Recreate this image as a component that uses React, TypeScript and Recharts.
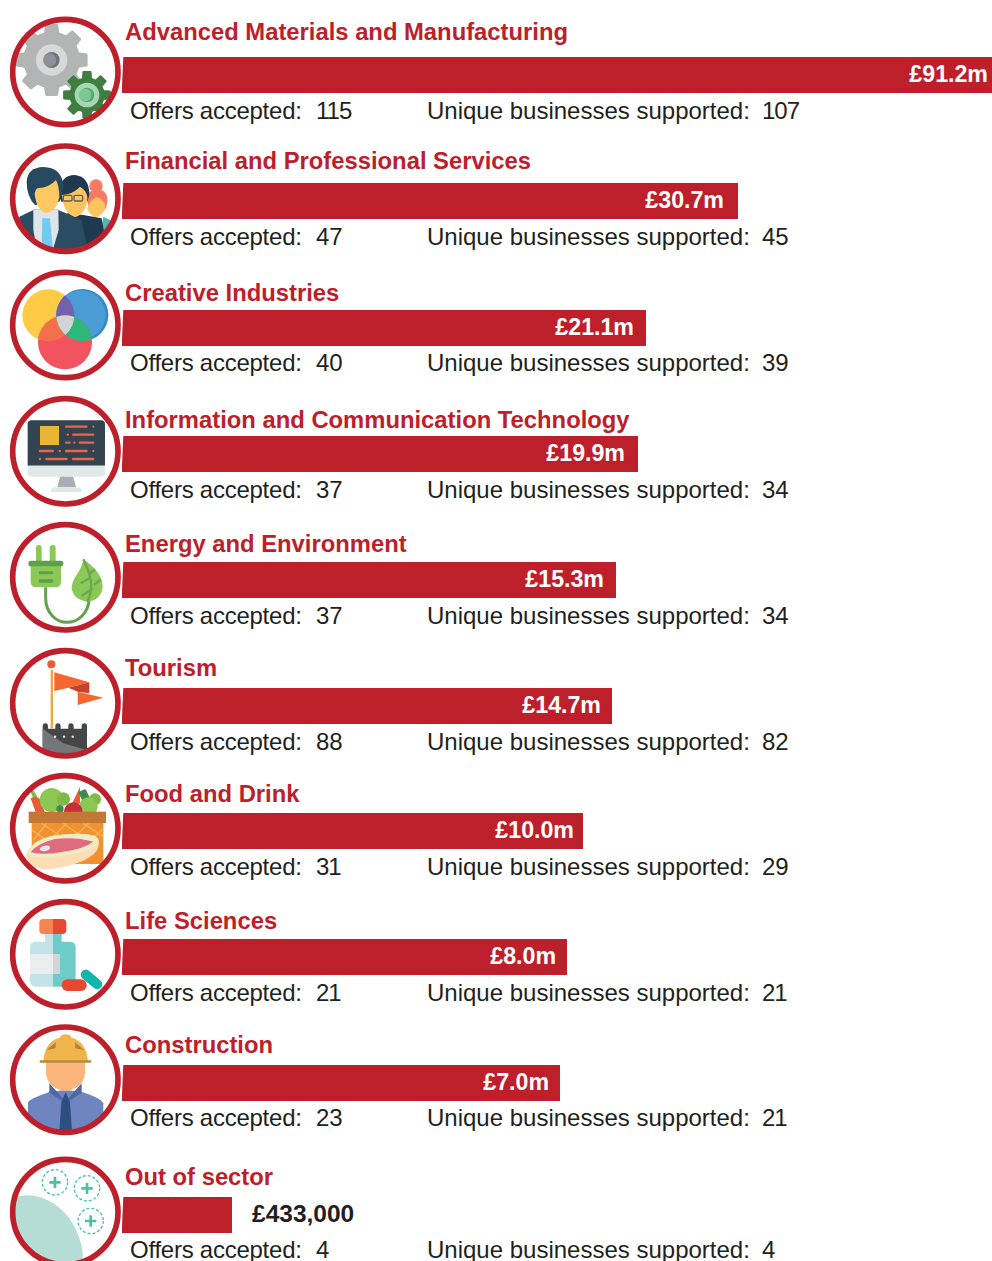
import React from "react";
import { BarChart, Bar, XAxis, YAxis, LabelList } from "recharts";

const sectors = [
  "Advanced Materials and Manufacturing",
  "Financial and Professional Services",
  "Creative Industries",
  "Information and Communication Technology",
  "Energy and Environment",
  "Tourism",
  "Food and Drink",
  "Life Sciences",
  "Construction",
  "Out of sector",
];
const fundingLabels = ["£91.2m", "£30.7m", "£21.1m", "£19.9m", "£15.3m", "£14.7m", "£10.0m", "£8.0m", "£7.0m", "£433,000"];
// The source graphic's bars are not proportional to the funding: these are the lengths as drawn.
const drawnBarLengths = [870, 616, 524, 516, 494, 490, 461, 445, 438, 110];
const offersAccepted = [115, 47, 40, 37, 37, 88, 31, 21, 23, 4];
const uniqueBusinesses = [107, 45, 39, 34, 34, 82, 29, 21, 21, 4];

const BAR_TOPS = [57, 183, 310, 436, 562, 688, 813, 939, 1065, 1197];
const TITLE_BASE = [40, 169, 301, 428, 552, 676, 802, 929, 1053, 1185];
const INFO_BASE = [119, 245, 371, 498, 624, 750, 875, 1001, 1126, 1258];
const LABEL_GAPS = [4, 14, 12, 13, 12, 11, 9, 11, 11, 0];
const RED = "#BE202B";
const INK = "#231F20";
const FONT = "'Liberation Sans', Arial, sans-serif";

function gearPath(cx: number, cy: number, ro: number, ri: number, teeth: number, start: number) {
  const pts: string[] = [];
  const step = (Math.PI * 2) / teeth;
  for (let i = 0; i < teeth; i++) {
    const a = start + i * step;
    const p = (r: number, d: number) => `${(cx + r * Math.sin(a + d * step)).toFixed(1)},${(cy - r * Math.cos(a + d * step)).toFixed(1)}`;
    pts.push(p(ri, -0.3), p(ro, -0.19), p(ro, 0.19), p(ri, 0.3));
  }
  return "M" + pts.join("L") + "Z";
}

const ringCy = [216, 596, 195, 574, 202, 580, 190, 568, 194, 591];
const cropY = [0, 0, 260, 260, 510, 510, 765, 765, 1015, 1015];

function Gears() {
  return (
    <g>
      <path d={gearPath(155, 180, 105, 82, 8, 0)} fill="#B3B5B5" stroke="#B3B5B5" strokeWidth="8" strokeLinejoin="round" />
      <circle cx="155" cy="180" r="47" fill="#D7D8D9" />
      <circle cx="155" cy="180" r="24" fill="#6E7378" />
      <circle cx="149" cy="180" r="20" fill="#8D9297" />
      <path d={gearPath(261, 285, 69, 50, 8, 0)} fill="#3F7D40" stroke="#3F7D40" strokeWidth="7" strokeLinejoin="round" />
      <circle cx="261" cy="285" r="37" fill="#A6D7B3" />
      <circle cx="261" cy="285" r="22" fill="#58A874" />
      <circle cx="255" cy="285" r="19" fill="#7AC893" />
    </g>
  );
}

function People() {
  return (
    <g>
      <path d="M310,650 L350,670 V720 H300 Z" fill="#4DB8AE" />
      <circle cx="288" cy="558" r="20" fill="#F47C66" />
      <path d="M262,600 Q262,568 292,568 Q324,570 322,605 L318,625 H266 Z" fill="#F47C66" />
      <path d="M262,625 Q268,600 290,592 Q318,600 316,628 Q300,652 285,652 Q268,645 262,625 Z" fill="#FDC45F" />
      <path d="M200,640 L250,645 L305,655 L320,740 H200 Z" fill="#1F3A50" />
      <path d="M178,585 Q178,525 225,525 Q268,530 268,585 L262,605 H184 Z" fill="#1F3A50" />
      <path d="M186,585 Q220,582 240,560 Q258,570 262,590 Q262,640 224,652 Q190,640 186,585 Z" fill="#FDC45F" />
      <rect x="190" y="586" width="26" height="17" rx="4" fill="none" stroke="#5A5F55" strokeWidth="4" />
      <rect x="222" y="586" width="26" height="17" rx="4" fill="none" stroke="#5A5F55" strokeWidth="4" />
      <path d="M58,650 L105,628 L170,628 L245,660 L262,750 H60 Z" fill="#2A4D63" />
      <path d="M100,628 L175,628 L176,690 L160,745 H110 L100,690 Z" fill="#DFE4E9" />
      <path d="M127,655 H150 L158,742 H125 Z" fill="#6FCBF2" />
      <path d="M80,545 Q82,503 130,501 Q185,503 190,555 Q188,590 178,605 L105,615 Q80,590 80,545 Z" fill="#26495F" />
      <path d="M104,580 Q105,570 112,565 Q150,562 168,540 Q178,560 178,590 Q172,632 140,640 Q108,630 104,580 Z" fill="#FDC862" />
    </g>
  );
}

function Venn() {
  return (
    <g>
      <defs>
        <clipPath id="vy"><circle cx="145" cy="166" r="78" /></clipPath>
        <clipPath id="vb"><circle cx="247" cy="165" r="78" /></clipPath>
        <clipPath id="vr"><circle cx="195" cy="247" r="81" /></clipPath>
      </defs>
      <circle cx="145" cy="166" r="78" fill="#FFCB47" />
      <circle cx="247" cy="165" r="78" fill="#2F8BCB" />
      <circle cx="243" cy="165" r="74" fill="#4B9BD5" />
      <circle cx="195" cy="247" r="81" fill="#F2545F" />
      <g clipPath="url(#vy)"><circle cx="247" cy="165" r="78" fill="#7461AE" /><circle cx="195" cy="247" r="81" fill="#F4704D" /></g>
      <g clipPath="url(#vb)"><circle cx="195" cy="247" r="81" fill="#2DB87A" /></g>
      <g clipPath="url(#vy)"><g clipPath="url(#vb)"><circle cx="195" cy="247" r="81" fill="#D1D3D4" /></g></g>
    </g>
  );
}

function Monitor() {
  const dashes = [
    [500, 195, 263], [500, 277, 283], [524, 200, 207], [524, 216, 283], [548, 195, 212], [548, 220, 227], [548, 236, 283],
    [573, 116, 162], [573, 176, 183], [573, 195, 263], [573, 277, 283], [597, 116, 123], [597, 136, 203], [597, 216, 283],
  ];
  return (
    <g>
      <path d="M83,617 V493 Q83,481 95,481 H303 Q315,481 315,493 V617 Z" fill="#33434F" />
      <path d="M83,617 H315 V638 Q315,650 303,650 H95 Q83,650 83,638 Z" fill="#E1E8E8" />
      <polygon points="180,650 220,650 228,682 172,682" fill="#A9AEB4" />
      <path d="M152,696 Q152,682 166,682 H232 Q246,682 246,696 Z" fill="#E1E8E8" />
      <rect x="120" y="498" width="57" height="57" fill="#E8B634" />
      {dashes.map(([y, a, b], i) => <rect key={i} x={a} y={y - 3.5} width={b - a} height="7" rx="3" fill="#EE6541" />)}
    </g>
  );
}

function Plug() {
  return (
    <g>
      <path d="M137,232 V265 C137,310 170,337 200,337 C235,337 265,310 268,265" fill="none" stroke="#5FA14F" strokeWidth="9" />
      <rect x="108" y="105" width="17" height="55" rx="8" fill="#8BC855" />
      <rect x="149" y="105" width="18" height="55" rx="8" fill="#8BC855" />
      <path d="M92,165 H183 V215 Q183,232 166,232 H109 Q92,232 92,215 Z" fill="#8BC855" />
      <rect x="85" y="152" width="105" height="17" rx="8" fill="#5F9E4D" />
      <rect x="116" y="184" width="44" height="9" rx="4" fill="#5F9E4D" />
      <rect x="116" y="208" width="44" height="10" rx="4" fill="#5F9E4D" />
      <path d="M250,148 C275,165 310,195 308,232 C306,258 285,275 262,275 C235,272 215,255 215,232 C218,200 245,185 250,148 Z" fill="#8BC855" />
      <path d="M250,148 C270,190 285,230 262,275 M268,205 L242,220 M278,235 L245,258 M270,190 L285,178 M282,225 L302,208" fill="none" stroke="#6AA653" strokeWidth="7" />
    </g>
  );
}

function Flag() {
  return (
    <g>
      <path d="M128,650 Q128,640 136,640 Q144,640 144,650 V656 H166 V648 Q166,640 174,640 Q182,640 182,650 V656 H205 V648 Q205,640 213,640 Q221,640 221,650 V656 H245 V648 Q245,640 253,640 Q261,640 261,650 V750 H128 Z" fill="#454648" />
      <polygon points="128,656 190,700 261,720 261,750 128,750" fill="#74767A" />
      {[165, 192, 218].map((x) => <circle key={x} cx={x} cy="680" r="3.5" fill="#F4F4F4" />)}
      <rect x="152" y="480" width="7" height="175" fill="#F2A53B" />
      <circle cx="154" cy="463" r="12" fill="#EE5A35" />
      <polygon points="163,487 268,517 205,533 163,543" fill="#F4682F" />
      <polygon points="205,533 268,517 268,550 233,545" fill="#C9402E" />
      <polygon points="233,545 310,563 233,585" fill="#F4682F" />
    </g>
  );
}

function Food() {
  return (
    <g>
      <polygon points="88,72 96,70 112,95 100,100" fill="#7EB94A" />
      <path d="M92,100 Q110,88 122,105 L135,145 L108,145 Z" fill="#EE5A35" />
      <polygon points="240,65 212,125 240,115" fill="#EE5A35" />
      <circle cx="155" cy="105" r="36" fill="#8CC751" />
      <circle cx="190" cy="102" r="20" fill="#7EB94A" />
      <rect x="240" y="75" width="24" height="32" rx="5" transform="rotate(-25 252 90)" fill="#3E8A48" />
      <circle cx="285" cy="103" r="18" fill="#7EB94A" />
      <circle cx="265" cy="125" r="28" fill="#8CC751" />
      <circle cx="180" cy="132" r="11" fill="#3E8A48" />
      <circle cx="220" cy="140" r="28" fill="#C72C3A" />
      <rect x="95" y="170" width="215" height="127" fill="#F0922F" />
      <path d="M95,195 L145,230 M125,175 L200,225 M190,175 L260,225 M250,175 L310,215 M150,225 L200,175 M215,225 L265,175 M100,225 L140,175 M275,225 L310,190" stroke="#F6B157" strokeWidth="4" fill="none" />
      <rect x="86" y="140" width="232" height="34" fill="#C27734" />
      <path d="M78,268 Q95,225 160,212 Q240,200 285,212 Q300,222 295,245 Q290,272 230,295 Q170,315 125,312 Q85,305 78,268 Z" fill="#FCDDB6" />
      <path d="M78,268 Q95,225 160,212 Q240,200 285,212 Q300,222 295,238 Q270,262 190,272 Q110,285 78,268 Z" fill="#F0EBC5" />
      <path d="M92,262 Q110,235 165,222 Q225,215 280,230 Q250,252 190,260 Q130,272 92,262 Z" fill="#DF6B7F" />
      <ellipse cx="135" cy="250" rx="16" ry="8" transform="rotate(-10 135 250)" fill="#E6E6EE" />
    </g>
  );
}

function Bottle() {
  return (
    <g>
      <rect x="135" y="500" width="24" height="35" fill="#C3E3E8" />
      <rect x="159" y="500" width="26" height="35" fill="#6FCBC8" />
      <path d="M159,530 H105 Q90,530 90,548 V645 Q90,665 110,665 H159 Z" fill="#C3E3E8" />
      <path d="M159,530 H210 Q227,530 227,548 V645 Q227,665 207,665 H159 Z" fill="#6FCBC8" />
      <path d="M159,462 H130 Q118,462 118,474 V495 Q118,507 130,507 H159 Z" fill="#F4854F" />
      <path d="M159,462 H187 Q199,462 199,474 V495 Q199,507 187,507 H159 Z" fill="#E5492F" />
      <rect x="90" y="567" width="69" height="60" fill="#EBEEEE" />
      <rect x="159" y="567" width="21" height="60" fill="#D1D5D5" />
      <rect x="185" y="643" width="75" height="35" rx="17" fill="#E5492F" />
      <rect x="237" y="628" width="75" height="30" rx="15" transform="rotate(40 274 643)" fill="#11B5AA" />
    </g>
  );
}

function Worker() {
  return (
    <g>
      <path d="M84,262 Q90,250 150,230 L197,225 L245,230 Q305,250 310,265 V360 H84 Z" fill="#6E85BF" />
      <path d="M150,210 L197,262 L243,210 L243,232 L197,262 L150,232 Z" fill="#4E69A5" stroke="#4E69A5" strokeWidth="4" />
      <path d="M138,140 H255 V175 Q250,222 197,228 Q143,222 138,175 Z" fill="#FBB67E" />
      <path d="M197,232 L210,262 L216,350 H178 L184,262 Z" fill="#2F4E7F" />
      <path d="M130,138 Q135,78 180,68 Q182,58 197,58 Q212,58 214,68 Q258,78 264,138 Z" fill="#F0B44C" />
      <polygon points="140,105 168,82 166,100" fill="#B47F32" />
      <polygon points="225,82 252,105 226,100" fill="#B47F32" />
      <rect x="119" y="136" width="155" height="7" rx="3" fill="#B78A3C" />
    </g>
  );
}

function OutOfSector() {
  const plus = [[165, 502], [261, 520], [272, 618]];
  return (
    <g>
      <path d="M47,545 Q105,530 160,565 Q230,610 248,710 V760 H40 Z" fill="#B5DDD6" />
      {plus.map(([x, y]) => (
        <g key={x}>
          <circle cx={x} cy={y} r="38" fill="none" stroke="#45C4A5" strokeWidth="4" strokeDasharray="9 6" />
          <path d={`M${x - 17},${y}H${x + 17}M${x},${y - 17}V${y + 17}`} stroke="#45C4A5" strokeWidth="8" />
        </g>
      ))}
    </g>
  );
}

const ICONS = [Gears, People, Venn, Monitor, Plug, Flag, Food, Bottle, Worker, OutOfSector];

function RowChart({ i }: { i: number }) {
  const row = [{ sector: sectors[i], length: drawnBarLengths[i], label: fundingLabels[i] }];
  const outside = i === sectors.length - 1;
  const renderLabel = (p: any) => {
    const cy = p.y + p.height / 2;
    const end = p.x + p.width;
    return outside ? (
      <text x={end + 20} y={cy + 6.5} fontFamily={FONT} fontWeight="700" fontSize="24.5" fill={INK}>{p.value}</text>
    ) : (
      <text x={end - LABEL_GAPS[i]} y={cy + 7} textAnchor="end" fontFamily={FONT} fontWeight="700" fontSize="23.2" fill="#FFFFFF">{p.value}</text>
    );
  };
  return (
    <div style={{ position: "absolute", left: 0, top: BAR_TOPS[i], width: 992, height: 36 }}>
      <BarChart width={992} height={36} layout="vertical" data={row} margin={{ top: 0, right: 0, bottom: 0, left: 122 }} barCategoryGap={0}>
        <XAxis type="number" hide domain={[0, 870]} />
        <YAxis type="category" dataKey="sector" hide />
        <Bar dataKey="length" fill={RED} isAnimationActive={false}>
          <LabelList dataKey="label" content={renderLabel} />
        </Bar>
      </BarChart>
    </div>
  );
}

const tightIfOne = (v: number) => (String(v).includes("1") ? -1 : 0);

export default function App() {
  return (
    <div style={{ position: "absolute", left: 0, top: 0, width: 992, height: 1261, overflow: "hidden", background: "#fff" }}>
      {sectors.map((_, i) => <RowChart key={i} i={i} />)}
      <svg width="992" height="1261" style={{ position: "absolute", left: 0, top: 0 }}>
        {sectors.map((name, i) => {
          const Icon = ICONS[i];
          const cy = ringCy[i];
          return (
            <g key={name}>
              <polygon points={`119,${BAR_TOPS[i]} 123.3,${BAR_TOPS[i]} 121.7,${BAR_TOPS[i] + 36} 119,${BAR_TOPS[i] + 36}`} fill="#fff" />
              <g transform={`translate(0,${cropY[i]}) scale(${1 / 3})`}>
                <clipPath id={`ic${i}`}><circle cx="196" cy={cy} r="155" /></clipPath>
                <g clipPath={`url(#ic${i})`}><Icon /></g>
                <circle cx="196" cy={cy} r="158" fill="none" stroke="#BE202B" strokeWidth="17" />
              </g>
              <text x="125" y={TITLE_BASE[i]} fontFamily={FONT} fontWeight="700" fontSize="23.8" fill={RED}>{name}</text>
              <text x="130" y={INFO_BASE[i]} fontFamily={FONT} fontSize="24" letterSpacing="-0.25" fill={INK}>Offers accepted:</text>
              <text x="316" y={INFO_BASE[i]} fontFamily={FONT} fontSize="24" letterSpacing={tightIfOne(offersAccepted[i])} fill={INK}>{offersAccepted[i]}</text>
              <text x="427" y={INFO_BASE[i]} fontFamily={FONT} fontSize="24" fill={INK}>Unique businesses supported:</text>
              <text x="762" y={INFO_BASE[i]} fontFamily={FONT} fontSize="24" letterSpacing={tightIfOne(uniqueBusinesses[i])} fill={INK}>{uniqueBusinesses[i]}</text>
            </g>
          );
        })}
      </svg>
    </div>
  );
}
